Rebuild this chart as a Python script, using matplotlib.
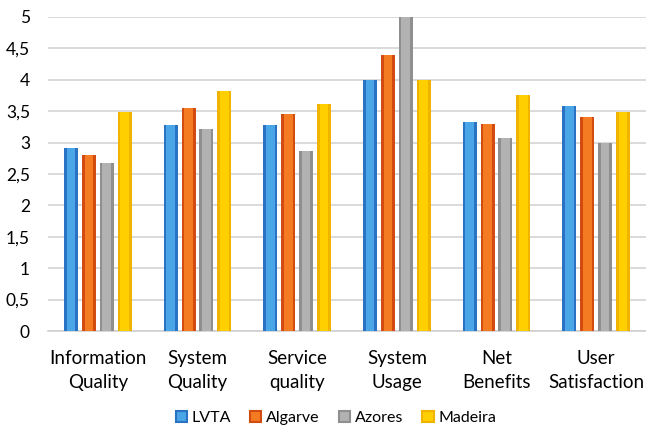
import numpy as np
import matplotlib.pyplot as plt
from matplotlib.ticker import FuncFormatter
from matplotlib.patches import Patch

plt.rcParams["font.family"] = ["Lato", "DejaVu Sans"]

# ── Data ───────────────────────────────────────────────────────────────────────
categories = ["Information\nQuality", "System\nQuality", "Service\nquality",
              "System\nUsage", "Net\nBenefits", "User\nSatisfaction"]
series = ["LVTA", "Algarve", "Azores", "Madeira"]
lvta    = [2.92, 3.28, 3.28, 4.00, 3.32, 3.59]
algarve = [2.80, 3.55, 3.45, 4.40, 3.30, 3.40]
azores  = [2.67, 3.21, 2.86, 5.00, 3.08, 3.00]
madeira = [3.49, 3.82, 3.62, 4.00, 3.75, 3.49]
values = [lvta, algarve, azores, madeira]

# edge (darker) / face (lighter) colours, mimic the Excel bevel look
EDGE = ["#2a72c4", "#d24c12", "#8f8f8f", "#f0b400"]
FACE = ["#4aa6e6", "#f57b22", "#b2b2b2", "#ffcf00"]

fig = plt.figure(figsize=(6.46, 4.30), dpi=100)
ax = fig.add_axes([0.0743, 0.2302, 0.9257, 0.7303])

x = np.arange(len(categories))
pitch, width = 0.18, 0.14
for i, (vals, ec, fc) in enumerate(zip(values, EDGE, FACE)):
    pos = x + (i - 1.5) * pitch
    ax.bar(pos, vals, width=width, color=ec, zorder=3)
    ax.bar(pos, vals, width=width * 0.62, color=fc, zorder=4)

ax.set_xlim(-0.5, len(categories) - 0.5)
ax.set_ylim(0, 5)
ax.set_yticks(np.arange(0, 5.01, 0.5))
ax.yaxis.set_major_formatter(FuncFormatter(lambda v, _: f"{v:g}".replace(".", ",")))
ax.set_xticks(x)
ax.set_xticklabels(categories, fontsize=13.5, linespacing=1.45)
ax.tick_params(axis="y", length=0, pad=13, labelsize=12.5)
ax.tick_params(axis="x", length=0, pad=14)
ax.grid(axis="y", color="#d4d4d4", lw=1.2, zorder=0)
for s in ["top", "right", "left"]:
    ax.spines[s].set_visible(False)
ax.spines["bottom"].set_color("#d0d0d0")
ax.spines["bottom"].set_linewidth(1.2)

handles = [Patch(facecolor=fc, edgecolor=ec, lw=1.5) for fc, ec in zip(FACE, EDGE)]
fig.legend(handles, series, loc="center", bbox_to_anchor=(0.52, 0.028), ncol=4,
           frameon=False, fontsize=11.5, handlelength=0.7, handleheight=0.7,
           handletextpad=0.3, columnspacing=1.2)

fig.savefig("out.png", dpi=100)
